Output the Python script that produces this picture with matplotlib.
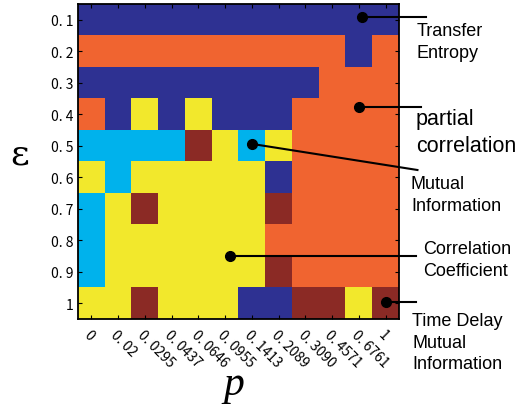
import numpy as np
import matplotlib
matplotlib.use("Agg")
import matplotlib.pyplot as plt
from matplotlib.colors import ListedColormap

# measures: B=transfer entropy, O=partial correlation, Y=correlation coeff,
# C=mutual information, R=time delay mutual information
p_labels = ["0", "0. 02", "0. 0295", "0. 0437", "0. 0646", "0. 0955",
            "0. 1413", "0. 2089", "0. 3090", "0. 4571", "0. 6761", "1"]
eps_labels = ["0. 1", "0. 2", "0. 3", "0. 4", "0. 5",
              "0. 6", "0. 7", "0. 8", "0. 9", "1"]
best = [
    "BBBBBBBBBBBB",
    "OOOOOOOOOOBO",
    "BBBBBBBBBOOO",
    "OBYBYBBBOOOO",
    "CCCCRYCYOOOO",
    "YCYYYYYBOOOO",
    "CYRYYYYROOOO",
    "CYYYYYYOOOOO",
    "CYYYYYYROOOO",
    "YYRYYYBBRRYR",
]
codes = "BOYCR"
colors = ["#2E3192", "#F06430", "#F2E82C", "#00B2EC", "#8B2A25"]

# annotations: label, dot (col, row), line end (col, row), text pos (px), size
notes = [
    ("Transfer\nEntropy", (10.1, -0.09), (12.52, -0.09), (417, 23), 13),
    ("partial\ncorrelation", (10.0, 2.77), (12.34, 2.77), (416, 109), 15.5),
    ("Mutual\nInformation", (5.99, 3.94), (12.19, 4.77), (411, 176), 13),
    ("Correlation\nCoefficient", (5.17, 7.5), (12.15, 7.5), (423, 241), 13),
    ("Time Delay\nMutual\nInformation", (11.03, 8.96), (12.15, 8.96), (412, 313), 13),
]

grid = np.array([[codes.index(c) for c in row] for row in best])

W, H = 524, 410
fig = plt.figure(figsize=(W / 100, H / 100), dpi=100)
ax = fig.add_axes([78 / W, 1 - 320 / H, 321 / W, 315 / H])
ax.imshow(grid, cmap=ListedColormap(colors), vmin=-0.5, vmax=4.5,
          aspect="auto", interpolation="nearest")

ax.set_xticks(range(len(p_labels)))
ax.set_yticks(range(len(eps_labels)))
ax.set_yticklabels(eps_labels, fontsize=10, family="Noto Sans CJK JP")
ax.set_xticklabels(p_labels, fontsize=10, family="Noto Sans CJK JP",
                   rotation=-45, ha="left", va="top", rotation_mode="anchor")
ax.tick_params(direction="in", top=True, right=True, length=3, width=0.8)
ax.tick_params(axis="x", pad=6)
for s in ax.spines.values():
    s.set_linewidth(1.3)

for label, dot, end, tpos, size in notes:
    ax.plot([dot[0], end[0]], [dot[1], end[1]], color="black", lw=1.5,
            clip_on=False)
    ax.plot(dot[0], dot[1], "o", color="black", ms=7, clip_on=False)
    fig.text(tpos[0] / W, 1 - tpos[1] / H, label, fontsize=size,
             family="Liberation Sans", va="top", ha="left", linespacing=1.35)

ax.set_xlim(-0.5, len(p_labels) - 0.5)
ax.set_ylim(len(eps_labels) - 0.5, -0.5)

fig.text(20 / W, 1 - 155 / H, "ε", fontsize=26, family="DejaVu Serif",
         ha="center", va="center")
fig.text(234 / W, 1 - 385 / H, "p", fontsize=30, family="Liberation Serif",
         style="italic", ha="center", va="center")

fig.savefig("out.png", dpi=100)
